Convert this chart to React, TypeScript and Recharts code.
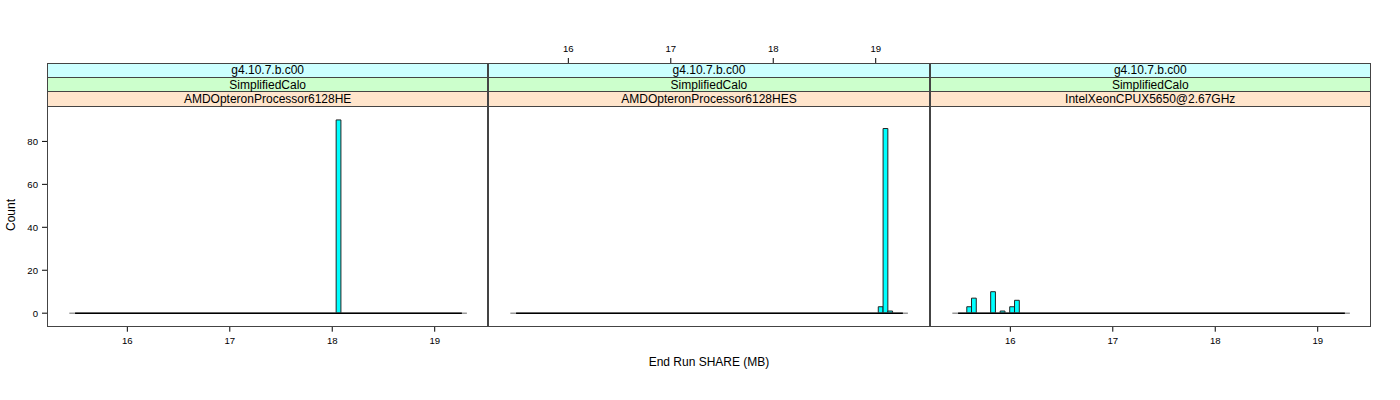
import React from 'react';
import { ComposedChart, XAxis, YAxis, ReferenceArea, ReferenceLine } from 'recharts';

// ---- data ----
const versionLabel = 'g4.10.7.b.c00';
const physicsLabel = 'SimplifiedCalo';
const panelNames = ['AMDOpteronProcessor6128HE', 'AMDOpteronProcessor6128HES', 'IntelXeonCPUX5650@2.67GHz'];
const binWidth = 0.0466;
const p1Starts = [18.038];
const p1Counts = [90];
const p2Starts = [19.025, 19.072, 19.118];
const p2Counts = [3, 86, 1];
const p3Starts = [15.575, 15.621, 15.808, 15.901, 15.994, 16.041];
const p3Counts = [3, 7, 10, 1, 3, 6];
const baseRange = [15.49, 19.265];
const baseRangeOuter = [15.434, 19.314];
const xTicks = [16, 17, 18, 19];
const yTicks = [0, 20, 40, 60, 80];
const xDomain = [15.216, 19.523];
const yMin = -6.3;
const yMax = 96.3;
const xLabel = 'End Run SHARE (MB)';
const yLabel = 'Count';

// ---- layout ----
const FONT = '"Liberation Sans", Arial, Helvetica, sans-serif';
const PANEL_LEFTS = [47, 488.3, 929.6];
const PANEL_W = 441.3;
const PANEL_TOP = 63.3;
const STRIP_H = 14.47;
const STRIPS_H = STRIP_H * 3;
const DATA_H = 220.3;
const PANEL_H = STRIPS_H + DATA_H;
const Y_LEFT_W = 50;
const Y_RIGHT_W = 30;
const TOP_AXIS_H = 30;
const BOTTOM_AXIS_H = 40;
const yTopExt = yMax + STRIPS_H * ((yMax - yMin) / DATA_H);

const tickStyle = { fontSize: 9.6, fill: '#000', fontFamily: FONT };
const lineStyle = { stroke: '#000', strokeWidth: 1 };

type PanelProps = {
  idx: number;
  starts: number[];
  counts: number[];
  bottomLabels: boolean;
  topLabels: boolean;
  leftY: boolean;
  rightY: boolean;
};

function Panel({ idx, starts, counts, bottomLabels, topLabels, leftY, rightY }: PanelProps) {
  const left = PANEL_LEFTS[idx];
  const bins = starts.map((s, i) => ({ x0: s, x1: s + binWidth, count: counts[i] }));
  return (
    <div style={{ position: 'absolute', left: left - Y_LEFT_W, top: PANEL_TOP - TOP_AXIS_H }}>
      <ComposedChart
        width={Y_LEFT_W + PANEL_W + Y_RIGHT_W}
        height={TOP_AXIS_H + PANEL_H + BOTTOM_AXIS_H}
        data={bins}
        margin={{ top: 0, right: 0, bottom: 0, left: 0 }}
      >
        <XAxis
          xAxisId="b"
          type="number"
          dataKey="x0"
          orientation="bottom"
          domain={xDomain}
          ticks={xTicks}
          interval={0}
          allowDataOverflow
          height={BOTTOM_AXIS_H}
          axisLine={false}
          tickLine={lineStyle}
          tickSize={5}
          tickMargin={5}
          tick={bottomLabels ? tickStyle : false}
        />
        <XAxis
          xAxisId="t"
          type="number"
          dataKey="x0"
          orientation="top"
          domain={xDomain}
          ticks={xTicks}
          interval={0}
          allowDataOverflow
          height={TOP_AXIS_H}
          axisLine={false}
          tickLine={lineStyle}
          tickSize={5}
          tickMargin={6}
          tick={topLabels ? tickStyle : false}
        />
        <YAxis
          yAxisId="l"
          type="number"
          orientation="left"
          domain={[yMin, yTopExt]}
          ticks={yTicks}
          interval={0}
          allowDataOverflow
          width={Y_LEFT_W}
          axisLine={false}
          tickLine={leftY ? lineStyle : false}
          tickSize={5}
          tickMargin={4}
          tick={leftY ? tickStyle : false}
        />
        <YAxis
          yAxisId="r"
          type="number"
          orientation="right"
          domain={[yMin, yTopExt]}
          ticks={yTicks}
          interval={0}
          allowDataOverflow
          width={Y_RIGHT_W}
          axisLine={false}
          tickLine={rightY ? lineStyle : false}
          tickSize={5}
          tick={false}
        />
        <ReferenceLine
          xAxisId="b"
          yAxisId="l"
          segment={[{ x: baseRangeOuter[0], y: 0 }, { x: baseRangeOuter[1], y: 0 }]}
          stroke="#9a9a9a"
          strokeWidth={1.5}
        />
        <ReferenceLine
          xAxisId="b"
          yAxisId="l"
          segment={[{ x: baseRange[0], y: 0 }, { x: baseRange[1], y: 0 }]}
          stroke="#000"
          strokeWidth={1.5}
        />
        {bins.map((b, i) => (
          <ReferenceArea
            key={i}
            xAxisId="b"
            yAxisId="l"
            x1={b.x0}
            x2={b.x1}
            y1={0}
            y2={b.count}
            fill="#00FFFF"
            fillOpacity={1}
            stroke="#222"
            strokeWidth={1}
            isAnimationActive={false}
          />
        ))}
      </ComposedChart>
    </div>
  );
}

const stripColors = ['#CCFFFF', '#CCFFCC', '#FFE5CC'];

function Strips({ idx }: { idx: number }) {
  const left = PANEL_LEFTS[idx];
  const texts = [versionLabel, physicsLabel, panelNames[idx]];
  return (
    <>
      {texts.map((t, i) => (
        <div
          key={i}
          style={{
            position: 'absolute',
            left,
            top: PANEL_TOP + i * STRIP_H,
            width: PANEL_W,
            height: STRIP_H,
            background: stripColors[i],
            borderBottom: '1px solid #444',
            boxSizing: 'border-box',
            fontFamily: FONT,
            fontSize: 12,
            lineHeight: `${STRIP_H}px`,
            textAlign: 'center',
            color: '#000',
            whiteSpace: 'nowrap',
          }}
        >
          {t}
        </div>
      ))}
      <div
        style={{
          position: 'absolute',
          left,
          top: PANEL_TOP,
          width: PANEL_W,
          height: PANEL_H,
          border: '1px solid #444',
          boxSizing: 'border-box',
          pointerEvents: 'none',
        }}
      />
    </>
  );
}

export default function App() {
  return (
    <div
      style={{
        position: 'absolute',
        left: 0,
        top: 0,
        width: 1400,
        height: 400,
        background: '#fff',
        overflow: 'hidden',
        fontFamily: FONT,
      }}
    >
      <Panel idx={0} starts={p1Starts} counts={p1Counts} bottomLabels topLabels={false} leftY rightY={false} />
      <Panel idx={1} starts={p2Starts} counts={p2Counts} bottomLabels={false} topLabels leftY={false} rightY={false} />
      <Panel idx={2} starts={p3Starts} counts={p3Counts} bottomLabels topLabels={false} leftY={false} rightY />
      <Strips idx={0} />
      <Strips idx={1} />
      <Strips idx={2} />
      <div
        style={{
          position: 'absolute',
          left: 709,
          top: 362,
          transform: 'translate(-50%, -50%)',
          fontSize: 12,
          whiteSpace: 'nowrap',
          color: '#000',
        }}
      >
        {xLabel}
      </div>
      <div
        style={{
          position: 'absolute',
          left: 11,
          top: 215,
          transform: 'translate(-50%, -50%) rotate(-90deg)',
          fontSize: 12,
          whiteSpace: 'nowrap',
          color: '#000',
        }}
      >
        {yLabel}
      </div>
    </div>
  );
}
